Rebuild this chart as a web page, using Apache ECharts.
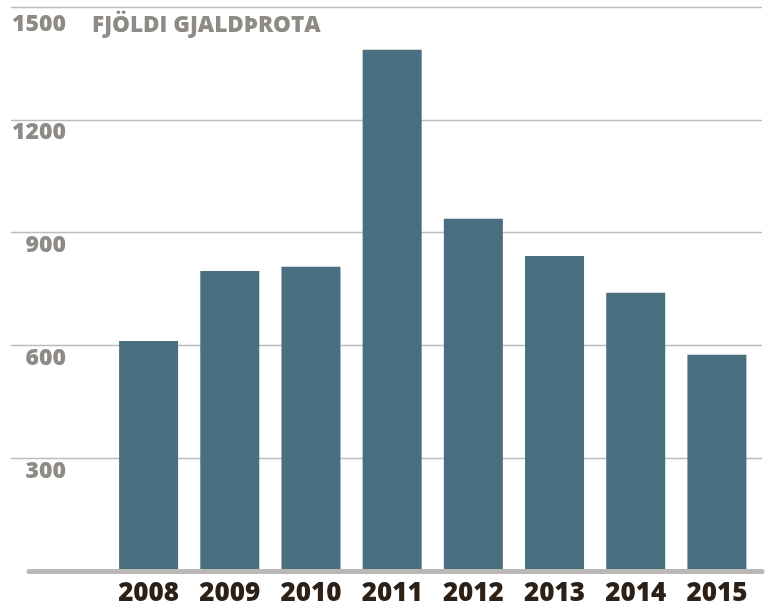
<!DOCTYPE html>
<html>
<head>
<meta charset="utf-8">
<script src="https://cdn.jsdelivr.net/npm/echarts@6/dist/echarts.min.js"></script>
<style>
html,body{margin:0;padding:0;background:#fff;}
#chart{width:776px;height:605px;}
</style>
</head>
<body>
<div id="chart"></div>
<script>
const titleText = 'FJÖLDI GJALDÞROTA';
const years = ['2008','2009','2010','2011','2012','2013','2014','2015'];
const bankruptcies = [612, 798, 809, 1386, 937, 838, 740, 575];
const yTicks = [0, 300, 600, 900, 1200, 1500];

const FONT = '"Open Sans", "Noto Sans", sans-serif';
const GREY = '#8e8a86';
const TOP = 7, BOTTOM = 34;

const chart = echarts.init(document.getElementById('chart'), null, {renderer: 'canvas'});
chart.setOption({
  animation: false,
  backgroundColor: '#ffffff',
  title: {
    text: titleText,
    left: 92,
    top: 14,
    padding: 0,
    textStyle: {fontFamily: FONT, fontSize: 22.5, fontWeight: 800, color: GREY}
  },
  grid: [
    {left: 108, right: 18.5, top: TOP, bottom: BOTTOM, containLabel: false, outerBoundsMode: 'none'},
    {left: 11, right: 14, top: TOP, bottom: BOTTOM, containLabel: false, outerBoundsMode: 'none'},
    {left: 29, right: 14, top: TOP, bottom: BOTTOM, containLabel: false, outerBoundsMode: 'none'}
  ],
  xAxis: [
    {
      gridIndex: 0, type: 'category', data: years,
      axisLine: {show: false}, axisTick: {show: false},
      axisLabel: {margin: 10, fontFamily: FONT, fontSize: 26, fontWeight: 800, color: '#2d2117'}
    },
    {gridIndex: 1, type: 'value', min: 0, max: 1, show: false},
    {
      gridIndex: 2, type: 'value', min: 0, max: 1, z: 5,
      axisLine: {show: true, lineStyle: {color: '#bab8b6', width: 5}},
      axisTick: {show: false}, axisLabel: {show: false}, splitLine: {show: false}
    }
  ],
  yAxis: [
    {gridIndex: 0, type: 'value', min: 0, max: 1500, interval: 300, show: false},
    {
      gridIndex: 1, type: 'value', min: 0, max: 1500, interval: 300,
      axisLine: {show: false}, axisTick: {show: false},
      splitLine: {show: true, showMinLine: false, lineStyle: {color: '#bdbdbd', width: 1.3}},
      axisLabel: {
        inside: true, margin: 55, align: 'right', verticalAlign: 'top',
        formatter: function (v) {
          if (v === 0) return '';
          if (v === 1500) return '{t|' + v + '}';
          return '{n|' + v + '}';
        },
        rich: {
          n: {fontFamily: FONT, fontSize: 23, fontWeight: 800, color: GREY, lineHeight: 26},
          t: {fontFamily: FONT, fontSize: 23, fontWeight: 800, color: GREY, lineHeight: 26, padding: [9, 0, 0, 0]}
        }
      }
    },
    {gridIndex: 2, type: 'value', min: 0, max: 1, show: false}
  ],
  series: [{
    type: 'bar',
    xAxisIndex: 0, yAxisIndex: 0,
    data: bankruptcies,
    barWidth: 59,
    itemStyle: {color: '#476f7f'}
  }]
});
</script>
</body>
</html>
